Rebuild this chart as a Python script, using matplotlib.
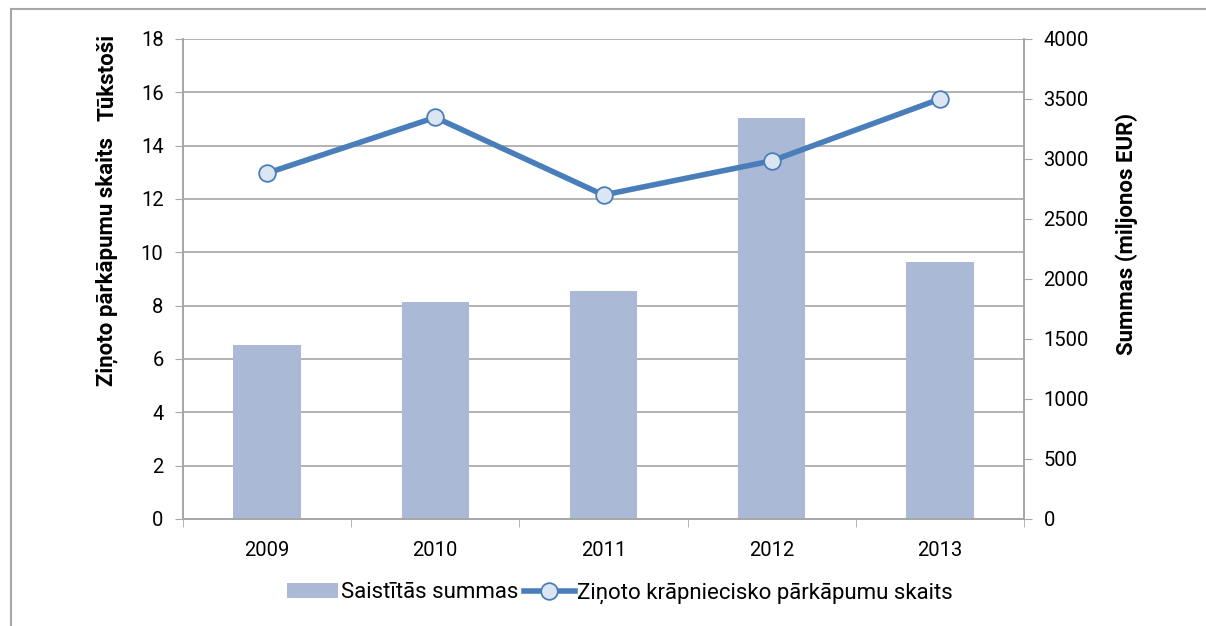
#Bar + line chart: reported fraud offences vs related sums, 2009-2013
import numpy as np
import matplotlib
matplotlib.use('Agg')
import matplotlib.pyplot as plt
from matplotlib.lines import Line2D

plt.rcParams['font.family'] = ['Roboto', 'DejaVu Sans']

#data
years = ['2009', '2010', '2011', '2012', '2013']
sums = [1450, 1808, 1900, 3344, 2142]          # miljonos EUR (right axis)
counts = [12.97, 15.06, 12.15, 13.43, 15.75]   # tukstosi (left axis)
left_ticks = np.arange(0, 19, 2)
right_ticks = np.arange(0, 4001, 500)

bar_color = '#A9B9D6'
line_color = '#4A7EBB'
grid_color = '#A6A6A6'

fig = plt.figure(figsize=(12.06, 6.26), dpi=100)
ax = fig.add_axes([183/1206, 1-519/626, (1024-183)/1206, (519-39)/626])
ax2 = ax.twinx()

x = np.arange(len(years))
# bars belong to the right axis, line to the left axis; keep line on top
ax.set_zorder(ax2.get_zorder() + 1)
ax.patch.set_visible(False)
bars = ax2.bar(x, sums, width=0.4, color=bar_color, zorder=2)
line, = ax.plot(x, counts, color=line_color, linewidth=4, marker='o', markersize=12,
                markerfacecolor='#DCE6F2', markeredgecolor=line_color, markeredgewidth=1.3,
                zorder=3)

ax.set_xlim(-0.5, len(years) - 0.5)
ax.set_ylim(0, 18)
ax2.set_ylim(0, 4000)
ax.set_yticks(left_ticks)
ax2.set_yticks(right_ticks)
ax.set_xticks(x)
ax.set_xticklabels(years)
ax.set_xticks(np.arange(-0.5, len(years), 1), minor=True)
ax.tick_params(axis='x', which='major', length=0, pad=16)
ax.tick_params(axis='x', which='minor', length=6, color=grid_color, direction='out')

# gridlines follow the left axis ticks, drawn on the bar axis so they sit behind the bars
for t in left_ticks[1:]:
    ax2.axhline(t * 4000 / 18, color=grid_color, linewidth=1.2, zorder=1)

for a in (ax, ax2):
    for s in a.spines.values():
        s.set_color(grid_color)
        s.set_linewidth(1.2)
    a.spines['top'].set_visible(False)
    a.tick_params(axis='y', length=6, color=grid_color, labelsize=14.5, pad=8)
ax.tick_params(axis='x', labelsize=14.5)

lab = dict(rotation=90, fontsize=16, fontweight='bold', ha='center', va='center')
fig.text(107/1206, 1-262/626, 'Ziņoto pārkāpumu skaits', **lab)
fig.text(107/1206, 1-77/626, 'Tūkstoši', **lab)
fig.text(1127/1206, 1-234/626, 'Summas (miljonos EUR)', **lab)

fig.legend([bars, line], ['Saistītās summas', 'Ziņoto krāpniecisko pārkāpumu skaits'],
           loc='center', bbox_to_anchor=(620/1206, 1-593/626), ncol=2, frameon=False,
           fontsize=16, handlelength=2.3, handletextpad=0.12, columnspacing=0.25)

# outer chart frame (partially cut off in the reference)
fig.add_artist(Line2D([11/1206, 11/1206], [0, 1-9/626], color=grid_color, linewidth=1.5))
fig.add_artist(Line2D([11/1206, 1], [1-9/626, 1-9/626], color=grid_color, linewidth=1.5))

plt.savefig('out.png', dpi=100)
